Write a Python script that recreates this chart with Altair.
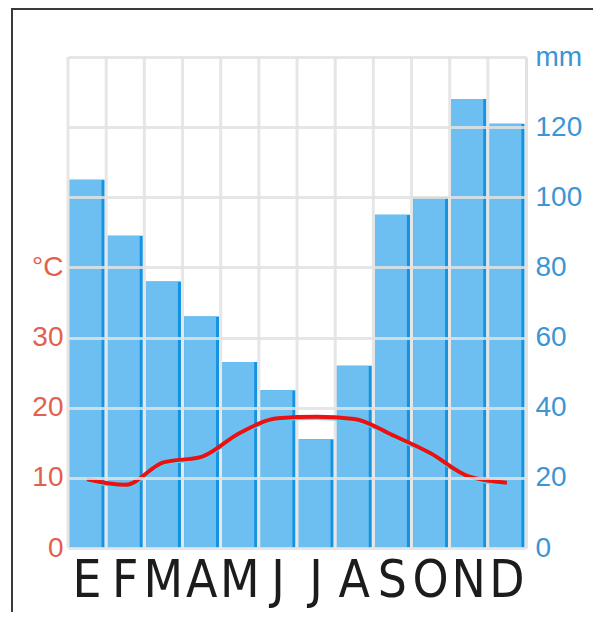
import altair as alt
import pandas as pd

months = ["Enero", "Febrero", "Marzo", "Abril", "Mayo", "Junio",
          "Julio", "Agosto", "Septiembre", "Octubre", "Noviembre", "Diciembre"]
precip_mm = [105, 89, 76, 66, 53, 45, 31, 52, 95, 100, 128, 121]
temp_c = [9.8, 9.0, 12.2, 13.0, 16.4, 18.5, 18.7, 18.4, 16.1, 13.5, 10.2, 9.3]
mm_ticks = [0, 20, 40, 60, 80, 100, 120, 140]
c_ticks = [0, 10, 20, 30, 40]

df = pd.DataFrame({"mes": months, "precip": precip_mm, "temp": temp_c})

GRID = "#E2E2E2"
BAR_LIGHT = "#6DBFF1"
BAR_DARK = "#1393E2"
RED_LBL = "#E3604F"
BLUE_LBL = "#3C95D4"
NUM_FONT = "Liberation Sans"
X_FONT = "Liberation Sans Narrow, DejaVu Sans Condensed, Arial Narrow, sans-serif"

x_scale = alt.Scale(domain=months, paddingInner=0.08, paddingOuter=0.04)
mm_scale = alt.Scale(domain=[0, 140], nice=False)
c_scale = alt.Scale(domain=[0, 70], nice=False)

x_axis = alt.Axis(labelExpr="substring(datum.label, 0, 1)",
                  labelFont=X_FONT, labelFontSize=51, labelColor="#1c1c1c",
                  labelAngle=0, labelPadding=8, ticks=False, domain=False,
                  grid=False, labelOverlap=False, title=None)

def X(**kw):
    return alt.X("mes:N", sort=months, scale=x_scale, title=None, axis=x_axis, **kw)

base = alt.Chart(df)

bars_dark = base.mark_bar(color=BAR_DARK).encode(
    x=X(),
    y=alt.Y("precip:Q", scale=mm_scale, title=None,
            axis=alt.Axis(orient="right", values=mm_ticks,
                          labelExpr="datum.value == 140 ? 'mm' : datum.label",
                          labelFont=NUM_FONT, labelFontSize=28, labelColor=BLUE_LBL,
                          labelPadding=9, labelBaseline="middle", ticks=False,
                          domain=True, domainColor=GRID, domainWidth=3,
                          grid=True, gridColor=GRID, gridWidth=3, gridOpacity=0.85,
                          zindex=1)),
)

bars_light = base.mark_bar(color=BAR_LIGHT, xOffset=-1.5,
                           width=alt.RelativeBandSize(0.91)).encode(
    x=X(),
    y=alt.Y("precip:Q", scale=mm_scale, axis=None),
)

vgrid = base.mark_rule(color=GRID, strokeWidth=3, opacity=0.85, xOffset=-1.5).encode(
    x=X(bandPosition=0),
)

shadow = base.mark_line(color="#4FD6F7", strokeWidth=2.5, yOffset=2,
                        interpolate="monotone").encode(
    x=X(),
    y=alt.Y("temp:Q", scale=c_scale, axis=None),
)

line = base.mark_line(color="#EE1010", strokeWidth=4,
                      interpolate="monotone").encode(
    x=X(),
    y=alt.Y("temp:Q", scale=c_scale, title=None,
            axis=alt.Axis(orient="left", values=c_ticks,
                          labelExpr="datum.value == 40 ? '°C' : datum.label",
                          labelFont=NUM_FONT, labelFontSize=28, labelColor=RED_LBL,
                          labelPadding=5, labelBaseline="middle", ticks=False,
                          domain=False, grid=False)),
)

frame_left = alt.Chart(df).mark_rule(color="#3a3a3a", strokeWidth=2).encode(
    x=alt.value(-56), y=alt.value(-49), y2=alt.value(570))
frame_top = alt.Chart(df).mark_rule(color="#3a3a3a", strokeWidth=2).encode(
    x=alt.value(-57), x2=alt.value(540), y=alt.value(-48))

chart = alt.layer(
    bars_dark, bars_light, vgrid, shadow, line, frame_left, frame_top
).resolve_scale(y="independent").properties(
    width=458, height=491,
    padding={"left": 60, "top": 49, "right": 67, "bottom": 64},
    autosize=alt.AutoSizeParams(type="none"),
).configure_view(stroke=None)

chart.save("out.html", embed_options={"renderer": "svg", "actions": False})
